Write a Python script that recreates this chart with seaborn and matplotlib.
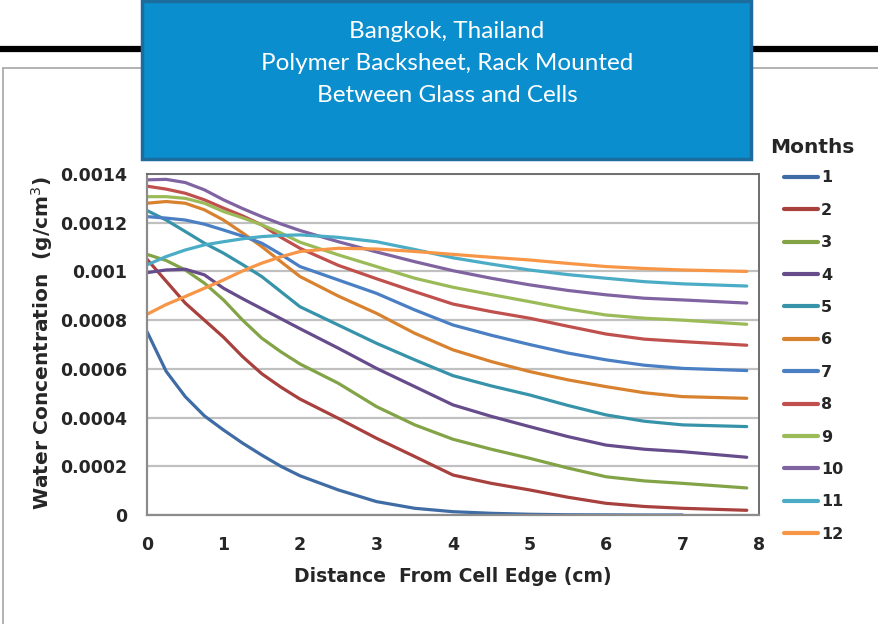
import numpy as np
import pandas as pd
import seaborn as sns
import matplotlib.pyplot as plt
from matplotlib.patches import Rectangle
from matplotlib.lines import Line2D

sns.set_style('white')
plt.rcParams['font.family'] = ['DejaVu Sans']

# distance from cell edge (cm), shared by all months
distance = [0, 0.25, 0.5, 0.75, 1, 1.25, 1.5, 1.75, 2, 2.5, 3, 3.5, 4, 4.5, 5, 5.5, 6, 6.5, 7, 7.84]

# water concentration (g/cm3), one list per month
month_1 = [0.000753, 0.00059, 0.000486, 0.000407, 0.000349, 0.000295, 0.000246, 0.0002, 0.000161,
           0.000103, 0.000055, 0.0000275, 0.0000136, 0.000007, 0.000003, 0.000001, 0.0000005, 0.0,
           0.0, np.nan]
month_2 = [0.00105, 0.00096, 0.00087, 0.0008, 0.00073, 0.00065, 0.00058, 0.000525, 0.000476,
           0.000397, 0.000315, 0.00024, 0.000164, 0.00013, 0.000103, 0.000073, 0.000048, 0.000035,
           0.0000275, 0.0000193]
month_3 = [0.00107, 0.001045, 0.001006, 0.000952, 0.000883, 0.0008, 0.000726, 0.00067, 0.00062,
           0.000541, 0.000445, 0.00037, 0.000311, 0.00027, 0.000233, 0.000193, 0.000157, 0.00014,
           0.00013, 0.000111]
month_4 = [0.000995, 0.001006, 0.001009, 0.000986, 0.000931, 0.000888, 0.000847, 0.000806, 0.000765,
           0.000685, 0.000602, 0.000527, 0.000452, 0.000405, 0.000363, 0.000322, 0.000287, 0.00027,
           0.00026, 0.000237]
month_5 = [0.00125, 0.001211, 0.001164, 0.001116, 0.001075, 0.001028, 0.000979, 0.000917, 0.000855,
           0.00078, 0.000705, 0.000637, 0.000572, 0.00053, 0.000493, 0.00045, 0.000411, 0.000385,
           0.00037, 0.000363]
month_6 = [0.00128, 0.001287, 0.00128, 0.001253, 0.001211, 0.001158, 0.001102, 0.00104, 0.000979,
           0.000899, 0.000828, 0.000746, 0.000678, 0.00063, 0.000589, 0.000555, 0.000527, 0.000502,
           0.000486, 0.000479]
month_7 = [0.001225, 0.001219, 0.001211, 0.001194, 0.00117, 0.001145, 0.001116, 0.00107, 0.00102,
           0.000965, 0.00091, 0.000842, 0.00078, 0.000738, 0.0007, 0.000665, 0.000637, 0.000615,
           0.000602, 0.000593]
month_8 = [0.00135, 0.001338, 0.001321, 0.001294, 0.00126, 0.001228, 0.001191, 0.00114, 0.001095,
           0.001025, 0.00097, 0.000917, 0.000866, 0.000835, 0.000808, 0.000775, 0.000743, 0.000722,
           0.000712, 0.000697]
month_9 = [0.001307, 0.001307, 0.0013, 0.00128, 0.001246, 0.00122, 0.001191, 0.001158, 0.00112,
           0.001068, 0.00102, 0.000972, 0.000935, 0.000905, 0.000876, 0.000846, 0.000821, 0.000808,
           0.0008, 0.000783]
month_10 = [0.001376, 0.001378, 0.001365, 0.001335, 0.001294, 0.001258, 0.001225, 0.001195, 0.001168,
            0.001122, 0.00108, 0.00104, 0.001003, 0.000972, 0.000945, 0.000922, 0.000904, 0.00089,
            0.000883, 0.00087]
month_11 = [0.001027, 0.001061, 0.001088, 0.001109, 0.001122, 0.001134, 0.001143, 0.001148, 0.00115,
            0.00114, 0.001122, 0.00109, 0.001056, 0.00103, 0.001006, 0.000987, 0.000972, 0.000958,
            0.000949, 0.00094]
month_12 = [0.000824, 0.000864, 0.000897, 0.000931, 0.000965, 0.001002, 0.001034, 0.00106, 0.001082,
            0.001095, 0.001092, 0.001082, 0.00107, 0.001058, 0.001047, 0.001033, 0.00102, 0.001012,
            0.001006, 0.001]

months = ['1', '2', '3', '4', '5', '6', '7', '8', '9', '10', '11', '12']
series = [month_1, month_2, month_3, month_4, month_5, month_6,
          month_7, month_8, month_9, month_10, month_11, month_12]

yticks = [0, 0.0002, 0.0004, 0.0006, 0.0008, 0.001, 0.0012, 0.0014]
ytick_labels = ['0', '0.0002', '0.0004', '0.0006', '0.0008', '0.001', '0.0012', '0.0014']
xticks = [0, 1, 2, 3, 4, 5, 6, 7, 8]

colors = ['#3F6CA5', '#A8403D', '#82A346', '#674C8C', '#3793AA', '#D8822F',
          '#4A7FC4', '#C0504D', '#9BBB59', '#8064A2', '#4BACC6', '#F79646']

df = pd.DataFrame({
    'distance': distance * len(months),
    'concentration': np.concatenate(series),
    'month': np.repeat(months, len(distance)),
})

W, H = 879, 624
fig = plt.figure(figsize=(W / 100, H / 100), dpi=100)
fig.patch.set_facecolor('white')

# slide decorations: thick rule, chart-area frame, title box
fig.add_artist(Line2D([0, 1], [1 - 49 / H] * 2, color='black', lw=4.5, zorder=1))
fig.add_artist(Line2D([3 / W, 1], [1 - 68 / H] * 2, color='#A6A6A6', lw=1.2, zorder=1))
fig.add_artist(Line2D([3 / W, 3 / W], [0, 1 - 68 / H], color='#A6A6A6', lw=1.2, zorder=1))
fig.add_artist(Rectangle((142 / W, 1 - 159 / H), 609 / W, 158 / H, transform=fig.transFigure,
                         facecolor='#0A8ECE', edgecolor='#1D6C9E', lw=2.5, zorder=3))
for txt, ypix in [('Bangkok, Thailand', 32), ('Polymer Backsheet, Rack Mounted', 63),
                  ('Between Glass and Cells', 95)]:
    fig.text(447 / W, 1 - ypix / H, txt, color='white', fontsize=17.5, family='Lato',
             ha='center', va='center', zorder=4)

ax = fig.add_axes([147 / W, 1 - 515 / H, 612 / W, 341 / H])
sns.lineplot(data=df, x='distance', y='concentration', hue='month', hue_order=months,
             palette=colors, estimator=None, sort=False, lw=2.3, ax=ax)

ax.set_xlim(0, 8)
ax.set_ylim(0, 0.0014)
ax.set_xticks(xticks)
ax.set_xticklabels([str(t) for t in xticks])
ax.set_yticks(yticks)
ax.set_yticklabels(ytick_labels)
ax.tick_params(length=0, labelsize=12.5)
ax.tick_params(axis='y', pad=14)
ax.tick_params(axis='x', pad=15)
for lab in ax.get_xticklabels() + ax.get_yticklabels():
    lab.set_fontweight('bold')

ax.yaxis.grid(True, color='#C0C0C0', lw=1.6)
ax.xaxis.grid(False)
for side in ['left', 'bottom']:
    ax.spines[side].set_color('#8C8C8C')
    ax.spines[side].set_linewidth(1.6)
for side in ['top', 'right']:
    ax.spines[side].set_color('#6E6E6E')
    ax.spines[side].set_linewidth(1.4)

ax.set_xlabel('Distance  From Cell Edge (cm)', fontsize=13.5, fontweight='bold')
ax.set_ylabel('Water Concentration  (g/cm$^3$)', fontsize=14.5, fontweight='bold')
ax.xaxis.set_label_coords(0.499, -0.152)
ax.yaxis.set_label_coords(-0.15, 0.505)

# legend title as separate text so the gap to the first entry matches
fig.text(812 / W, 1 - 147 / H, 'Months', fontsize=14.5, fontweight='bold',
         ha='center', va='center')
handles, labels = ax.get_legend_handles_labels()
leg = ax.legend(handles, labels, loc='upper left',
                bbox_to_anchor=(770 / W, 1 - 156 / H), bbox_transform=fig.transFigure,
                frameon=False, fontsize=11.5, handlelength=2.1, handletextpad=0.2,
                labelspacing=1.09)
for t in leg.get_texts():
    t.set_fontweight('bold')
for h in leg.get_lines():
    h.set_linewidth(3)

fig.savefig('out.png', dpi=100)
